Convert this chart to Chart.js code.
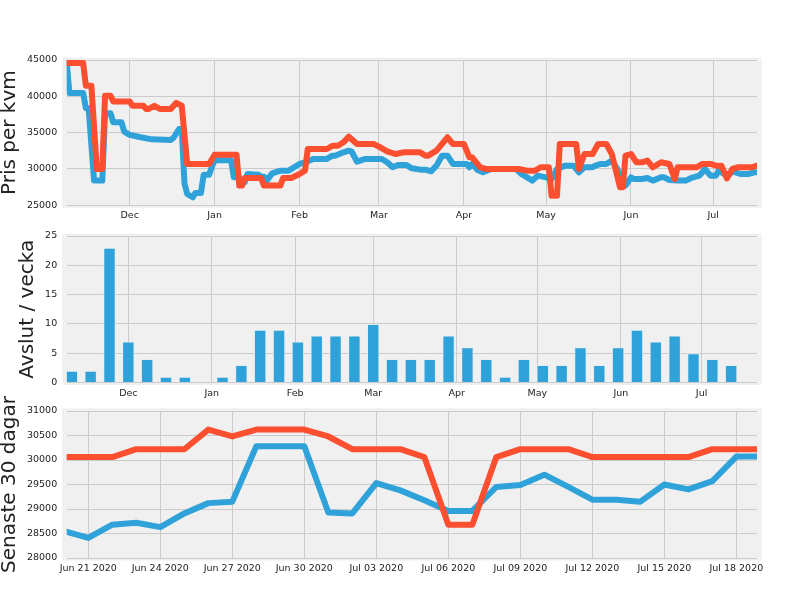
<!DOCTYPE html>
<html>
<head>
<meta charset="utf-8">
<script src="https://cdn.jsdelivr.net/npm/chart.js@4.4.1/dist/chart.umd.min.js"></script>
<style>
  html, body { margin: 0; padding: 0; background: #fff; }
  #wrap { position: relative; width: 800px; height: 600px; }
  .panel { position: absolute; left: 0; width: 800px; }
</style>
</head>
<body>
<div id="wrap">
  <div class="panel" style="top:0;height:230px"><canvas id="price"></canvas></div>
  <div class="panel" style="top:216px;height:189px"><canvas id="deals"></canvas></div>
  <div class="panel" style="top:380px;height:220px"><canvas id="recent"></canvas></div>
</div>
<script>
// x positions in the two upper panels are days since 2019-11-01
var monthDays = [30, 61, 92, 121, 152, 182, 213, 243];
var monthLabels = ['Dec', 'Jan', 'Feb', 'Mar', 'Apr', 'May', 'Jun', 'Jul'];

var bluePriceDays = [7, 8, 13, 14, 15, 17, 20, 21, 23, 24, 27, 28, 30, 34, 38, 45, 46, 48, 49, 50,
  51, 53, 54, 56, 57, 59, 60, 61, 67, 68, 70, 71, 72, 73, 77, 78, 79, 80, 82, 85,
  88, 90, 92, 94, 97, 102, 104, 105, 108, 110, 111, 113, 116, 122, 124, 126, 128, 131, 133, 136,
  138, 140, 142, 144, 146, 148, 153, 154, 155, 157, 159, 162, 171, 173, 177, 179, 182, 184, 186, 189,
  192, 194, 196, 199, 200, 202, 204, 206, 208, 210, 211, 213, 214, 217, 219, 221, 224, 225, 227, 230,
  233, 235, 238, 240, 242, 244, 245, 247, 249, 250, 253, 256, 258, 259];
var bluePrice = [44600, 40460, 40460, 38350, 38350, 28400, 28400, 37660, 37660, 36420, 36420, 35140, 34700, 34360, 34080, 34000, 34300, 35500, 35500, 28000,
  26560, 26100, 26700, 26700, 29200, 29200, 30300, 31200, 31200, 28850, 28850, 28170, 28170, 29310, 29200, 28940, 28940, 28400, 29400, 29770,
  29770, 30230, 30690, 30900, 31380, 31380, 31830, 31830, 32290, 32520, 32400, 31000, 31380, 31380, 30920, 30230, 30550, 30550, 30090, 29910,
  29910, 29680, 30460, 31830, 31830, 30690, 30690, 30230, 30690, 29860, 29540, 30000, 30000, 29310, 28400, 29080, 28850, 28620, 30000, 30460,
  30460, 29540, 30230, 30230, 30460, 30690, 30690, 31150, 30000, 27710, 27710, 28850, 28620, 28620, 28760, 28400, 28850, 28850, 28490, 28400,
  28400, 28760, 29080, 30000, 29080, 29080, 29770, 29310, 29310, 29680, 29310, 29310, 29540, 29540];

var redPriceDays = [7, 13, 14, 16, 18, 20, 21, 23, 24, 30, 31, 35, 36, 37, 39, 41, 45, 47, 49, 51,
  59, 61, 69, 70, 71, 72, 78, 79, 85, 86, 89, 92, 94, 95, 102, 104, 106, 108, 110, 113,
  119, 121, 124, 127, 130, 136, 138, 139, 142, 146, 148, 152, 154, 155, 158, 160, 172, 175, 178, 180,
  183, 184, 186, 187, 193, 194, 196, 199, 201, 204, 206, 209, 210, 211, 213, 215, 217, 219, 221, 224,
  227, 229, 230, 237, 239, 242, 244, 246, 248, 250, 252, 257, 259];
var redPrice = [44600, 44600, 41470, 41470, 30000, 30000, 40090, 40090, 39300, 39300, 38700, 38700, 38260, 38260, 38700, 38260, 38260, 39100, 38700, 30690,
  30690, 31970, 31970, 27710, 27710, 28760, 28760, 27710, 27710, 28760, 28760, 29310, 29770, 32750, 32750, 33200, 33200, 33670, 34450, 33440,
  33440, 33070, 32430, 32060, 32290, 32290, 31830, 31830, 32520, 34360, 33440, 33440, 31600, 31600, 30230, 30000, 30000, 29770, 29770, 30230,
  30230, 26330, 26330, 33440, 33440, 30000, 32060, 32060, 33440, 33440, 32060, 27480, 27480, 31830, 32060, 30920, 30920, 31150, 30230, 30920,
  30690, 28600, 30230, 30230, 30690, 30690, 30460, 30460, 28700, 30000, 30230, 30230, 30460];

var weekDates = ['2019-11-10', '2019-11-17', '2019-11-24', '2019-12-01', '2019-12-08', '2019-12-15', '2019-12-22', '2019-12-29',
  '2020-01-05', '2020-01-12', '2020-01-19', '2020-01-26', '2020-02-02', '2020-02-09', '2020-02-16', '2020-02-23',
  '2020-03-01', '2020-03-08', '2020-03-15', '2020-03-22', '2020-03-29', '2020-04-05', '2020-04-12', '2020-04-19',
  '2020-04-26', '2020-05-03', '2020-05-10', '2020-05-17', '2020-05-24', '2020-05-31', '2020-06-07', '2020-06-14',
  '2020-06-21', '2020-06-28', '2020-07-05', '2020-07-12'];
var dealsPerWeek = [2, 2, 23, 7, 4, 1, 1, 0, 1, 3, 9, 9, 7, 8, 8, 8, 10, 4, 4, 4, 8, 6, 4, 1, 4, 3, 3, 6, 3, 6, 9, 7, 8, 5, 4, 3];

// last 30 days, one value per day starting 2020-06-20
var recentBlue = [28550, 28410, 28680, 28720, 28630, 28910, 29120, 29150, 30280, 30280, 30280, 28930, 28910, 29530, 29380,
  29180, 28960, 28960, 29450, 29490, 29700, 29450, 29190, 29190, 29150, 29500, 29400, 29570, 30070, 30070];
var recentRed = [30060, 30060, 30060, 30220, 30220, 30220, 30620, 30480, 30620, 30620, 30620, 30480, 30220, 30220, 30220,
  30060, 28680, 28680, 30060, 30220, 30220, 30220, 30060, 30060, 30060, 30060, 30060, 30220, 30220, 30220];
var recentTickDays = [1, 4, 7, 10, 13, 16, 19, 22, 25, 28];
var recentTickLabels = ['Jun 21 2020', 'Jun 24 2020', 'Jun 27 2020', 'Jun 30 2020', 'Jul 03 2020',
  'Jul 06 2020', 'Jul 09 2020', 'Jul 12 2020', 'Jul 15 2020', 'Jul 18 2020'];

var BLUE = '#30a2da', RED = '#fc4f30', GRID = '#cbcbcb', TEXT = '#222';

Chart.defaults.font.family = "'DejaVu Sans', sans-serif";
Chart.defaults.animation = false;
Chart.defaults.plugins.legend.display = false;
Chart.defaults.plugins.tooltip.enabled = false;

function dayNum(s) {
  var p = s.split('-');
  return (Date.UTC(+p[0], +p[1] - 1, +p[2]) - Date.UTC(2019, 10, 1)) / 86400000;
}

function xy(xs, ys) {
  return ys.map(function(v, i) { return { x: xs[i], y: v }; });
}

var panelBg = {
  id: 'panelBg',
  beforeDraw: function(chart) {
    var a = chart.chartArea, ctx = chart.ctx;
    ctx.save();
    ctx.fillStyle = '#f0f0f0';
    ctx.fillRect(a.left - 4.5, a.top - 2.5, a.right - a.left + 9, a.bottom - a.top + 5);
    ctx.restore();
  }
};

function yAxis(min, max, step, title, titlePad) {
  return {
    min: min, max: max,
    ticks: { stepSize: step, padding: 9.5, color: TEXT, font: { size: 9.5 },
      callback: function(v) { return String(v); } },
    grid: { color: GRID, lineWidth: 1, drawTicks: false },
    border: { display: false },
    title: { display: true, text: title, color: TEXT, font: { size: 20, lineHeight: 1 }, padding: { top: titlePad, bottom: 0 } },
    afterFit: function(s) { s.width = 66.7; }
  };
}

function xAxis(min, max, tickVals, tickText, height) {
  return {
    type: 'linear', min: min, max: max, offset: false,
    afterBuildTicks: function(s) { s.ticks = tickVals.map(function(v) { return { value: v }; }); },
    ticks: {
      padding: 5, color: TEXT, font: { size: 9.5 }, maxRotation: 0, autoSkip: false,
      callback: function(v, i) { return tickText[i]; }
    },
    grid: { color: GRID, lineWidth: 1, drawTicks: false, offset: false },
    border: { display: false },
    afterFit: function(s) { s.height = height; }
  };
}

function lineSet(points, color, order) {
  return {
    data: points, borderColor: color, borderWidth: 6, pointRadius: 0, tension: 0,
    borderJoinStyle: 'round', borderCapStyle: 'square', order: order
  };
}

new Chart(document.getElementById('price'), {
  type: 'line',
  data: { datasets: [
    lineSet(xy(bluePriceDays, bluePrice), BLUE, 1),
    lineSet(xy(redPriceDays, redPrice), RED, 0)
  ] },
  options: {
    responsive: true, maintainAspectRatio: false,
    layout: { padding: { top: 60, right: 43, left: 0, bottom: 0 } },
    scales: {
      x: xAxis(7, 259, monthDays, monthLabels, 24.7),
      y: yAxis(25000, 45000, 5000, 'Pris per kvm', 0)
    }
  },
  plugins: [panelBg]
});

new Chart(document.getElementById('deals'), {
  type: 'bar',
  data: { datasets: [{
    data: xy(weekDates.map(dayNum), dealsPerWeek),
    backgroundColor: BLUE, borderColor: '#e4edf2', borderWidth: 1,
    barPercentage: 0.66, categoryPercentage: 1
  }] },
  options: {
    responsive: true, maintainAspectRatio: false,
    layout: { padding: { top: 20, right: 43, left: 0, bottom: 0 } },
    scales: {
      x: xAxis(7.1, 263.6, monthDays, monthLabels, 22.5),
      y: yAxis(0, 25, 5, 'Avslut / vecka', 18)
    }
  },
  plugins: [panelBg]
});

new Chart(document.getElementById('recent'), {
  type: 'line',
  data: { datasets: [
    lineSet(xy(recentBlue.map(function(v, i) { return i; }), recentBlue), BLUE, 1),
    lineSet(xy(recentRed.map(function(v, i) { return i; }), recentRed), RED, 0)
  ] },
  options: {
    responsive: true, maintainAspectRatio: false,
    layout: { padding: { top: 31, right: 43, left: 0, bottom: 0 } },
    scales: {
      x: xAxis(0.1, 28.86, recentTickDays, recentTickLabels, 42),
      y: yAxis(28000, 31000, 500, 'Senaste 30 dagar', 0)
    }
  },
  plugins: [panelBg]
});
</script>
</body>
</html>
